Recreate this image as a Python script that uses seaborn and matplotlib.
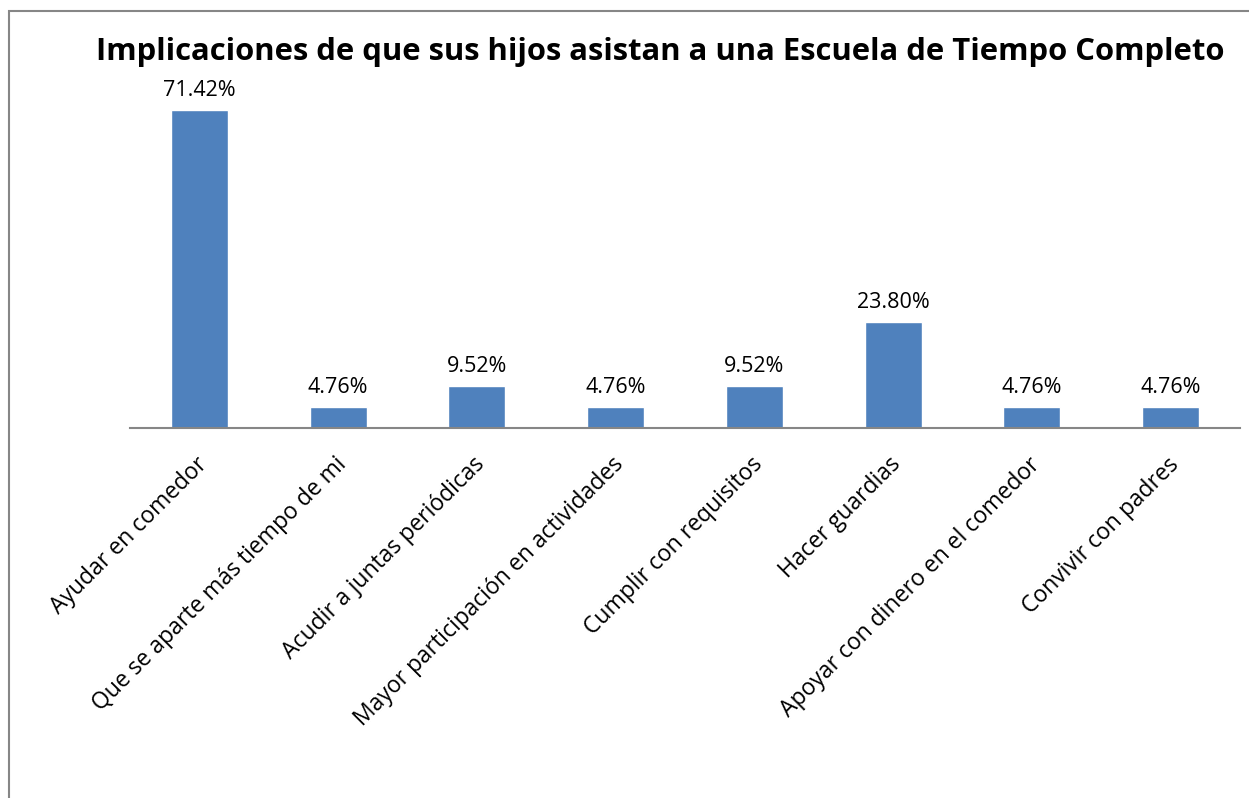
import matplotlib
matplotlib.use("Agg")
import matplotlib.pyplot as plt
import matplotlib.transforms as mtransforms
import seaborn as sns
import pandas as pd
from matplotlib.patches import Rectangle

categorias = ["Ayudar en comedor", "Que se aparte más tiempo de mi",
              "Acudir a juntas periódicas", "Mayor participación en actividades",
              "Cumplir con requisitos", "Hacer guardias",
              "Apoyar con dinero en el comedor", "Convivir con padres"]
porcentajes = [71.42, 4.76, 9.52, 4.76, 9.52, 23.80, 4.76, 4.76]
etiquetas = ["71.42%", "4.76%", "9.52%", "4.76%", "9.52%", "23.80%", "4.76%", "4.76%"]

df = pd.DataFrame({"categoria": categorias, "valor": porcentajes})

sns.set_style("white")
plt.rcParams["font.family"] = ["Open Sans", "DejaVu Sans"]
plt.rcParams["text.color"] = "black"
plt.rcParams["xtick.color"] = "black"

fig = plt.figure(figsize=(12.49, 7.98), dpi=100)
ax = fig.add_axes([130 / 1249, (798 - 428) / 798, 1110 / 1249, 353 / 798])

sns.barplot(data=df, x="categoria", y="valor", color="#4F81BD", width=0.41,
            saturation=1, ax=ax)

for i, (v, t) in enumerate(zip(porcentajes, etiquetas)):
    ax.text(i, v + 2.0, t, ha="center", va="bottom", fontsize=15.5, color="black")

ax.set_ylim(0, 79.3)
ax.set_xlim(-0.5, len(categorias) - 0.5)
ax.set_yticks([])
ax.set_xlabel("")
ax.set_ylabel("")
for s in ["top", "right", "left"]:
    ax.spines[s].set_visible(False)
ax.spines["bottom"].set_color("#868686")
ax.spines["bottom"].set_linewidth(1.5)
ax.tick_params(axis="x", length=0, pad=4)
desplaza = mtransforms.ScaledTranslation(-0.04, -0.19, fig.dpi_scale_trans)
for lab in ax.get_xticklabels():
    lab.set_rotation(45)
    lab.set_ha("right")
    lab.set_rotation_mode("anchor")
    lab.set_fontsize(16.5)
    lab.set_transform(lab.get_transform() + desplaza)

fig.text(660 / 1249, 1 - 52 / 798, "Implicaciones de que sus hijos asistan a una Escuela de Tiempo Completo",
         ha="center", va="center", fontsize=22.3, fontweight="bold", color="black")

fig.patches.append(Rectangle((9 / 1249, -0.05), 1.2, 1 - 11 / 798 + 0.05,
                             transform=fig.transFigure, fill=False,
                             edgecolor="#868686", linewidth=1.5))

fig.savefig("out.png", dpi=100)
